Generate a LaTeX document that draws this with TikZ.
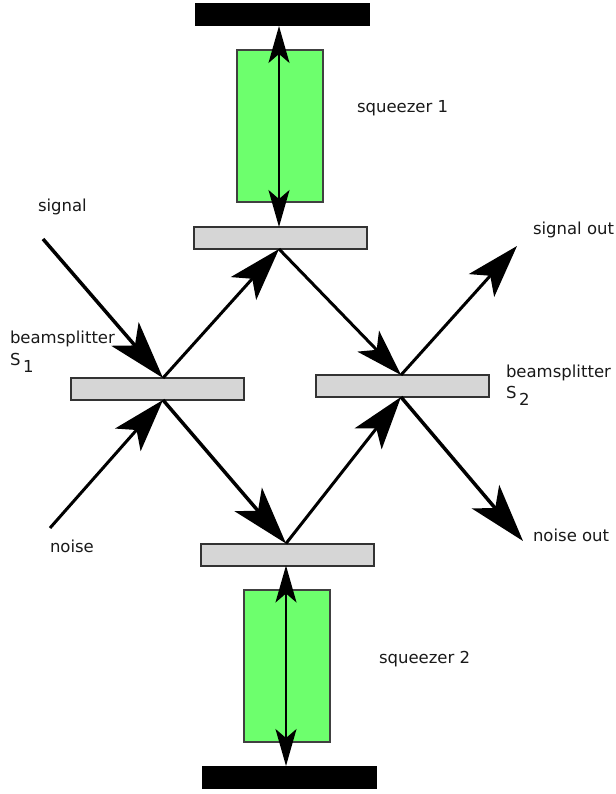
\documentclass[tikz,border=0pt]{standalone}
\usepackage{fontspec}
\setmainfont{DejaVu Sans}
\usetikzlibrary{arrows.meta}
\definecolor{green1}{HTML}{6DFF6D}
\tikzset{
  splitter/.style={draw=black!80,line width=2pt,fill=black!16,minimum width=173pt,minimum height=22pt,inner sep=0pt,outer sep=0pt},
  squeezer/.style={draw=black!75,line width=2.2pt,fill=green1,minimum width=86pt,minimum height=152pt,inner sep=0pt,outer sep=0pt},
  mirror/.style={fill=black,minimum width=175pt,minimum height=23pt,inner sep=0pt,outer sep=0pt},
  label/.style={anchor=base west,inner sep=0pt,outer sep=0pt,font=\fontsize{16.5pt}{19pt}\selectfont,text=black!90},
  beamsmall/.style={line width=3pt,-{Stealth[length=47pt,width=30pt,inset=12pt]}},
  beam/.style={line width=3pt,-{Stealth[length=53pt,width=34pt,inset=13pt]}},
  beamin/.style={line width=3.5pt,-{Stealth[length=58pt,width=36pt,inset=15pt]}},
  axis/.style={line width=2pt,{Stealth[length=37pt,width=21pt,inset=9pt]}-{Stealth[length=37pt,width=21pt,inset=9pt]}}
}
\begin{document}
\begin{tikzpicture}[x=1pt,y=-1pt]
\useasboundingbox (0,0) rectangle (615,794);
\node[mirror] (mtop) at (282.5,14.5) {};
\node[mirror] (mbot) at (289.5,777.5) {};
\node[squeezer] (sq1) at (280,126) {};
\node[squeezer] (sq2) at (287,666) {};
\node[splitter] (bt) at (280.5,238) {};
\node[splitter] (b1) at (157,389) {};
\node[splitter] (b2) at (402,386) {};
\node[splitter] (bb) at (287,554.5) {};
\coordinate (sigin) at (43,239);
\coordinate (noisein) at (50,528);
\coordinate (sigout) at (517,246);
\coordinate (noiseout) at (523,541);
\coordinate (b1t) at (163,378);
\coordinate (b1b) at (163,400);
\coordinate (b2t) at (401,375);
\coordinate (b2b) at (401,397);
\coordinate (btt) at (279,227);
\coordinate (btb) at (279,249);
\coordinate (bbt) at (286,543.5);
\coordinate (bbb) at (286,565.5);
\coordinate (mt) at (279,26);
\coordinate (mb) at (286,766);
\draw[axis] (btt) -- (mt);
\draw[axis] (bbb) -- (mb);
\draw[beamin] (sigin) -- (b1t);
\draw[beam] (noisein) -- (b1b);
\draw[beam] (b1t) -- (btb);
\draw[beamsmall] (btb) -- (b2t);
\draw[beam] (b2t) -- (sigout);
\draw[beamin] (b1b) -- (bbt);
\draw[beam] (bbt) -- (b2b);
\draw[beamin] (b2b) -- (noiseout);
\node[label] (t1) at (38,212) {signal};
\node[label] (t2) at (50,552) {noise};
\node[label] (t3) at (533,234) {signal out};
\node[label] (t4) at (533,541) {noise out};
\node[label] (t5) at (357,113) {squeezer 1};
\node[label] (t6) at (379,663) {squeezer 2};
\node[label] (t7) at (10,343) {beamsplitter};
\node[label] (t8) at (10,365) {S\raisebox{-7pt}{\,1}};
\node[label] (t9) at (506,377) {beamsplitter};
\node[label] (t10) at (506,398) {S\raisebox{-7pt}{\,2}};
\end{tikzpicture}
\end{document}
